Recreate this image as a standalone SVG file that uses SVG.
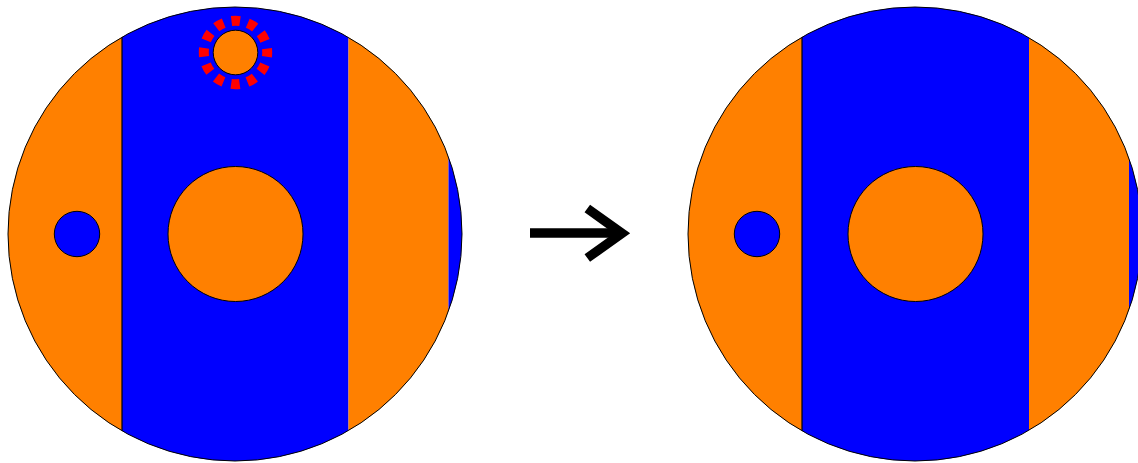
<svg xmlns="http://www.w3.org/2000/svg" width="1138" height="463" viewBox="0 0 1138 463">
<style>
.or{fill:#ff8000}
.bl{fill:#0000ff}
.edge{fill:none;stroke:#000;stroke-width:1}
.sep{stroke:#000;stroke-width:1.2}
.dot{stroke:#000;stroke-width:1}
</style>
<defs>
<clipPath id="cL"><circle cx="235" cy="234" r="227"/></clipPath>
<clipPath id="cR"><circle cx="915" cy="234" r="227"/></clipPath>
</defs>
<g id="left-disc">
<g clip-path="url(#cL)">
<rect class="or" x="0" y="0" width="122" height="463"/>
<rect class="bl" x="122" y="0" width="226.5" height="463"/>
<rect class="or" x="348.5" y="0" width="100" height="463"/>
<rect class="bl" x="448.5" y="0" width="20" height="463"/>
<line class="sep" x1="122" y1="0" x2="122" y2="463"/>
</g>
<circle class="edge" cx="235" cy="234" r="227"/>
<circle class="or dot" cx="235.5" cy="234" r="67.5"/>
<circle class="bl dot" cx="77" cy="234" r="22.7"/>
<circle class="or dot" cx="235.5" cy="52.5" r="22.3"/>
<circle cx="235.5" cy="52.5" r="31.7" fill="none" stroke="#ff0000" stroke-width="10" stroke-dasharray="8.6 8" stroke-dashoffset="4.3"/>
</g>
<g id="right-disc">
<g clip-path="url(#cR)">
<rect class="or" x="680" y="0" width="122" height="463"/>
<rect class="bl" x="802" y="0" width="227" height="463"/>
<rect class="or" x="1029" y="0" width="100" height="463"/>
<rect class="bl" x="1129" y="0" width="20" height="463"/>
<line class="sep" x1="802" y1="0" x2="802" y2="463"/>
</g>
<circle class="edge" cx="915" cy="234" r="227"/>
<circle class="or dot" cx="915.5" cy="234" r="67.5"/>
<circle class="bl dot" cx="757" cy="234" r="22.7"/>
</g>
<g id="connectors">
<line x1="530" y1="233" x2="620" y2="233" stroke="#000" stroke-width="9.5"/>
<polyline points="587.3,208.5 622,233.3 587.3,258" fill="none" stroke="#000" stroke-width="9.5" stroke-linejoin="miter" stroke-miterlimit="10"/>
</g>
</svg>
